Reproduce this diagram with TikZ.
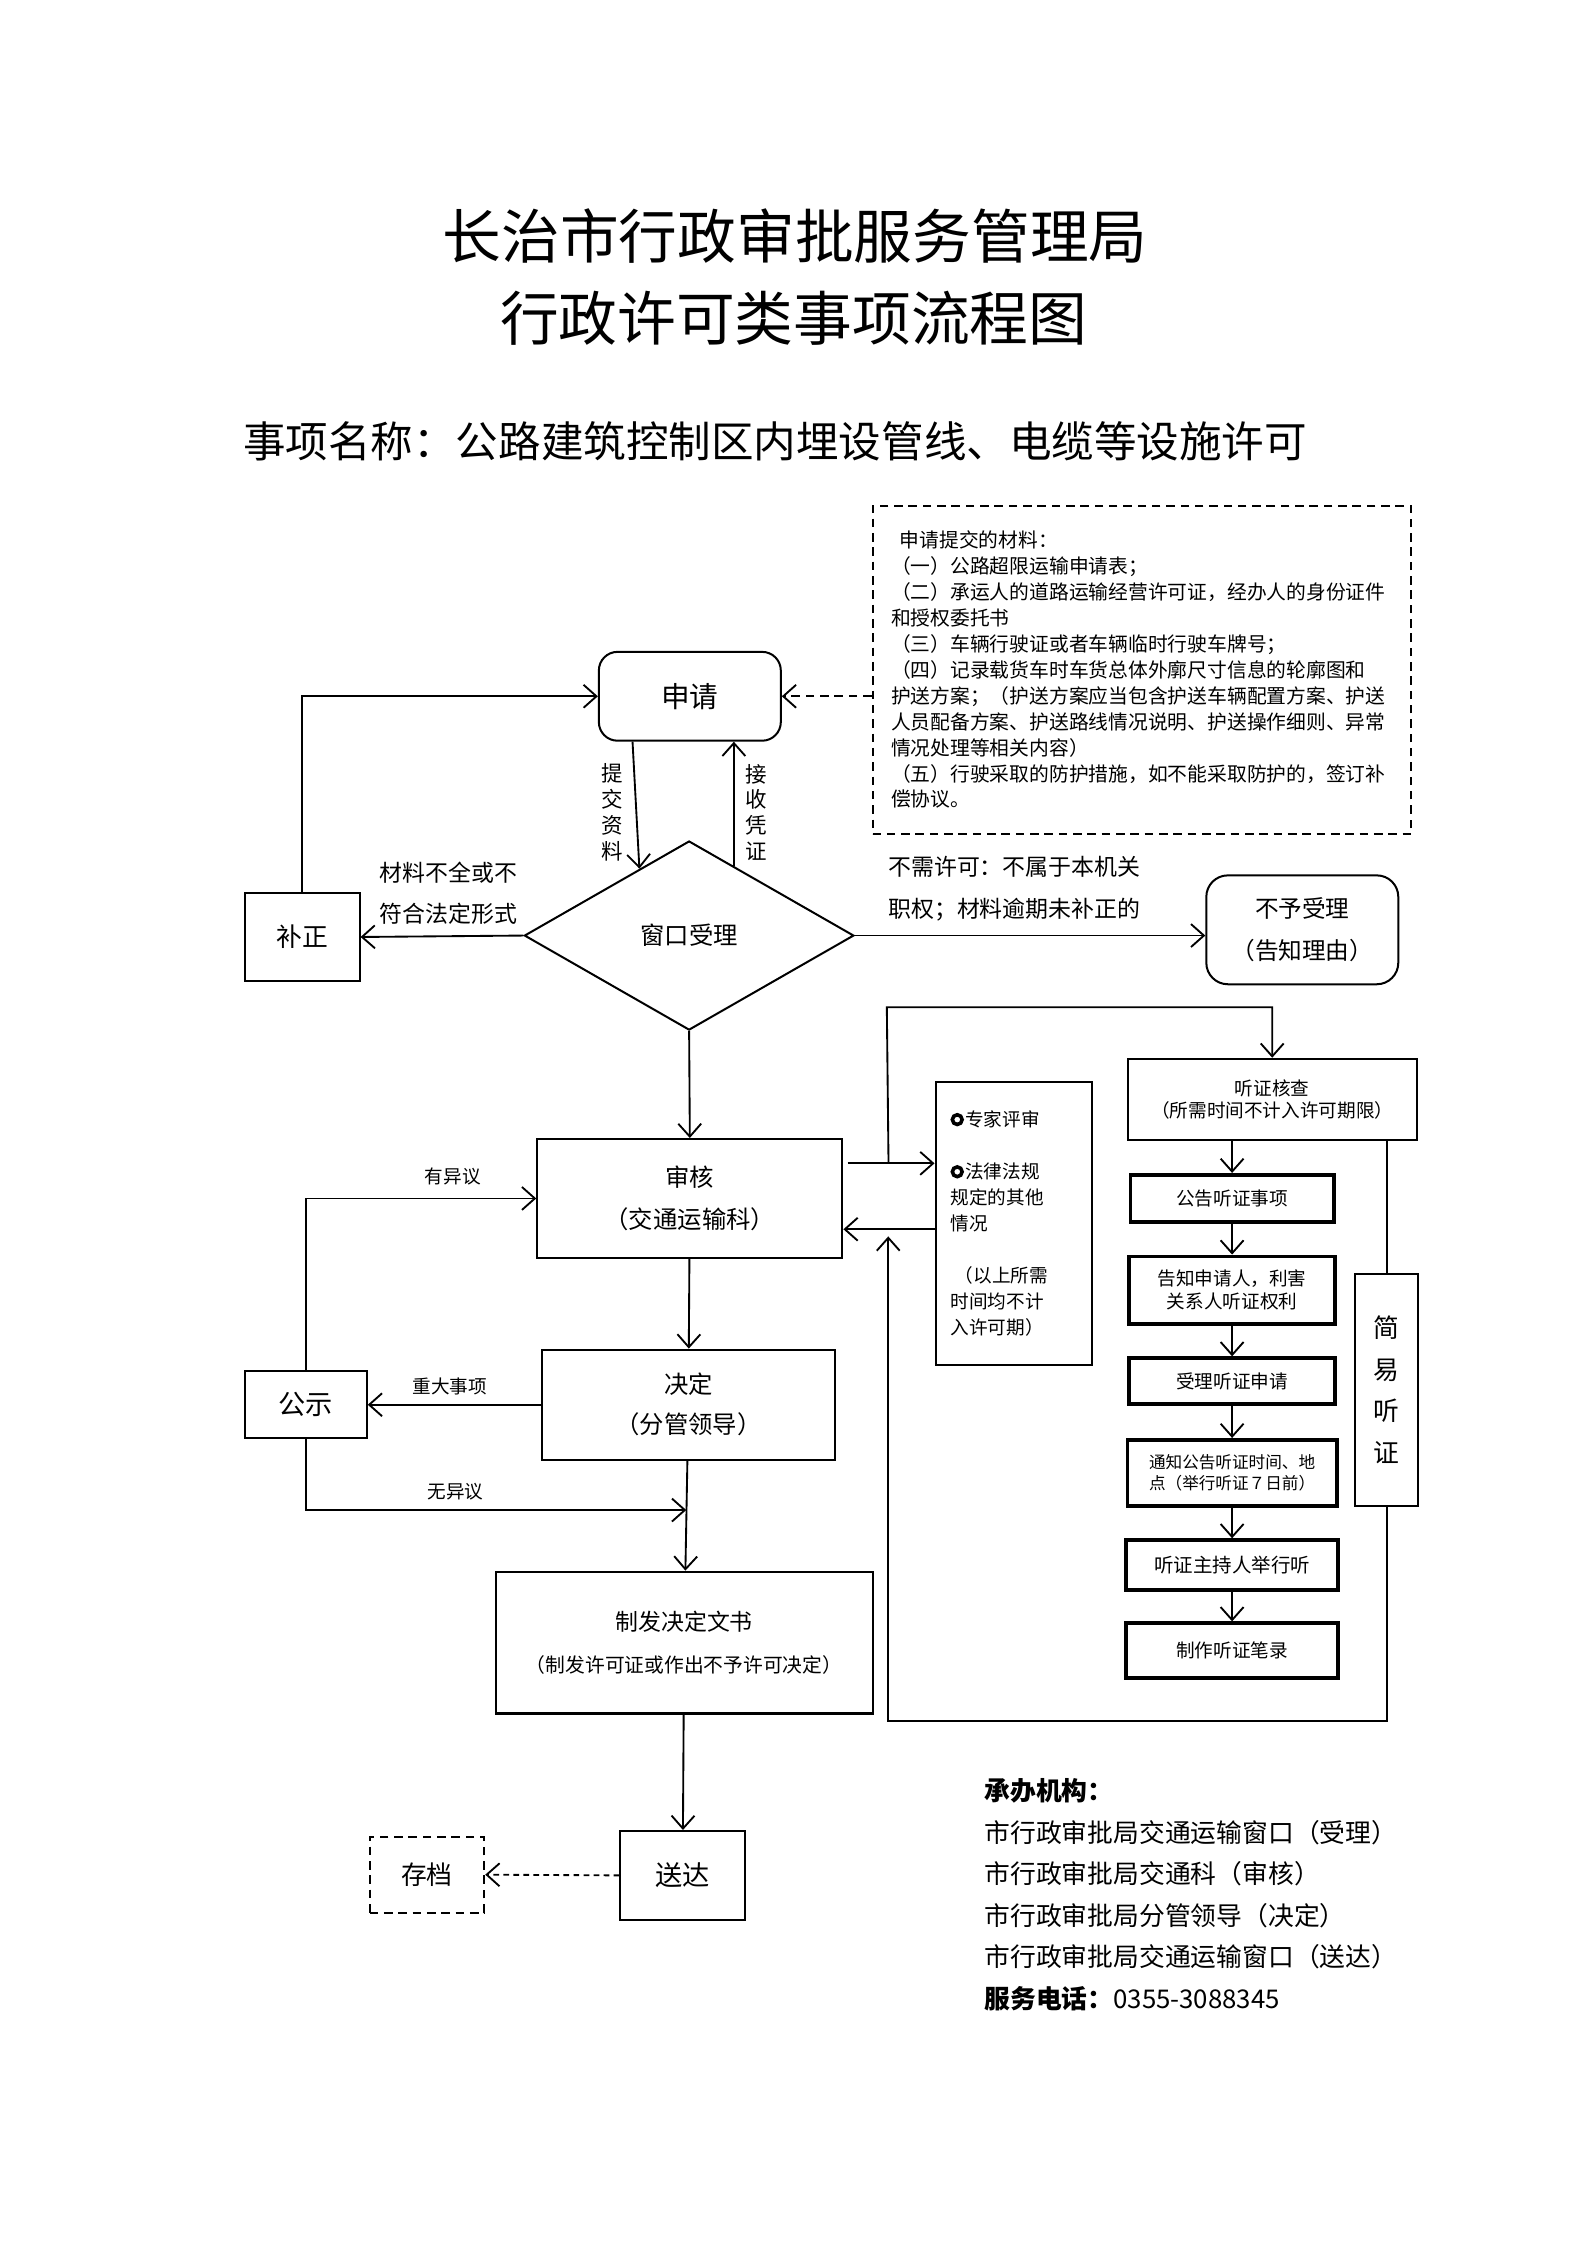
\documentclass[tikz,border=0pt]{standalone}
\usepackage{fontspec}
\setmainfont{Noto Sans CJK SC}
\usetikzlibrary{arrows.meta,positioning,shapes.geometric,calc}

\newcommand{\fsz}[2]{\fontsize{#1pt}{#2pt}\selectfont}
\newcommand{\ringdot}{\tikz[baseline=-4.6pt]\draw[line width=2.5pt] (0,0) circle[radius=3.4pt];\hspace{1pt}}

\begin{document}
\begin{tikzpicture}[x=1pt, y=-1pt,
    box/.style={rectangle, draw, line width=1.4pt, align=center, inner sep=0pt},
    roundbox/.style={box, rounded corners=13pt},
    dashbox/.style={box, dash pattern=on 6pt off 4pt},
    hearbox/.style={box, line width=2.6pt, font=\fsz{13}{16}},
    lbl/.style={inner sep=0pt, align=center},
    arrow/.style={-{Straight Barb[length=9pt,width=16pt]}, line width=1.3pt}
]
\useasboundingbox (0,0) rectangle (1108,1567);

% Titles
\node[lbl, font=\fsz{41}{48}] (title) at (555,165) {长治市行政审批服务管理局};
\node[lbl, font=\fsz{41}{48}] (title2) at (554,222) {行政许可类事项流程图};
\node[lbl, font=\fsz{29.7}{36}] (item) at (541,308) {事项名称：公路建筑控制区内埋设管线、电缆等设施许可};

% Materials
\node[dashbox, minimum width=376pt, minimum height=229pt, text width=350pt, align=left, font=\fsz{13.8}{18.1}] (docs) at (797,467.5) {%
\hspace*{6pt}申请提交的材料：\\
（一）公路超限运输申请表；\\
（二）承运人的道路运输经营许可证，经办人的身份证件\\
和授权委托书\\
（三）车辆行驶证或者车辆临时行驶车牌号；\\
（四）记录载货车时车货总体外廓尺寸信息的轮廓图和\\
护送方案；（护送方案应当包含护送车辆配置方案、护送\\
人员配备方案、护送路线情况说明、护送操作细则、异常\\
情况处理等相关内容）\\
（五）行驶采取的防护措施，如不能采取防护的，签订补\\
偿协议。};

% Main path
\node[roundbox, minimum width=127pt, minimum height=62pt, font=\fsz{20}{24}] (apply) at (481.5,486) {申请};
\node[diamond, draw, line width=1.4pt, minimum width=230pt, minimum height=132pt, inner sep=0pt, font=\fsz{17}{20}] (accept) at (481,653) {窗口受理};
\node[box, minimum width=80pt, minimum height=62pt, font=\fsz{18}{22}] (fix) at (211,654) {补正};
\node[roundbox, minimum width=134pt, minimum height=76pt, rounded corners=15pt, font=\fsz{16.5}{29}] (reject) at (909,649) {不予受理\\（告知理由）};
\node[box, minimum width=213pt, minimum height=83pt, font=\fsz{17}{29}] (review) at (481.5,836.5) {审核\\（交通运输科）};
\node[box, minimum width=205pt, minimum height=77pt, font=\fsz{17}{28}] (decide) at (480.5,980.5) {决定\\（分管领导）};
\node[box, minimum width=85pt, minimum height=47pt, font=\fsz{19}{22}] (publicize) at (213.5,980.5) {公示};
\node[box, minimum width=263pt, minimum height=99pt, font=\fsz{16}{29}] (issue) at (477.5,1146.5) {制发决定文书\\\fsz{13.8}{29}（制发许可证或作出不予许可决定）};
\node[box, minimum width=87pt, minimum height=62pt, font=\fsz{19}{22}] (deliver) at (476.5,1309) {送达};
\node[dashbox, minimum width=80pt, minimum height=53pt, font=\fsz{18}{22}] (archive) at (298,1308.5) {存档};

% Expert review
\node[box, minimum width=109pt, minimum height=198pt, text width=88pt, align=left, font=\fsz{13}{18.2}] (expert) at (707.5,854) {%
\ringdot 专家评审\\
\mbox{}\\
\ringdot 法律法规\\
规定的其他\\
情况\\
\mbox{}\\
\hspace*{3pt}（以上所需\\
时间均不计\\
入许可期）};

% Hearing
\node[box, minimum width=202pt, minimum height=57pt, font=\fsz{13}{15}] (hcheck) at (888,767.5) {听证核查\\（所需时间不计入许可期限）};
\node[hearbox, minimum width=142pt, minimum height=33pt] (hnotice) at (860,836.5) {公告听证事项};
\node[hearbox, minimum width=144pt, minimum height=47pt] (hinform) at (860,900.5) {告知申请人，利害\\关系人听证权利};
\node[hearbox, minimum width=144pt, minimum height=32pt] (hreceive) at (860,964) {受理听证申请};
\node[hearbox, minimum width=146pt, minimum height=46pt, font=\fsz{11.6}{15}] (htime) at (860,1028) {通知公告听证时间、地\\点（举行听证７日前）};
\node[hearbox, minimum width=148pt, minimum height=35pt, font=\fsz{13.6}{16}] (hhold) at (860,1092.5) {听证主持人举行听};
\node[hearbox, minimum width=148pt, minimum height=38pt] (hrecord) at (860,1152) {制作听证笔录};
\node[box, minimum width=44pt, minimum height=162pt, font=\fsz{18}{29}] (simple) at (968,970) {简\\易\\听\\证};

% Labels
\node[lbl, font=\fsz{15}{18}] (lblsubmit) at (427,567) {提\\交\\资\\料};
\node[lbl, font=\fsz{15}{18}] (lblreceipt) at (528,567) {接\\收\\凭\\证};
\node[lbl, font=\fsz{16}{29}] (lblfix) at (313,623.5) {材料不全或不\\符合法定形式};
\node[lbl, font=\fsz{16}{29}, align=left] (lblreject) at (708,620.5) {不需许可：不属于本机关\\职权；材料逾期未补正的};
\node[lbl, font=\fsz{13}{15}] (lblyes) at (316,821) {有异议};
\node[lbl, font=\fsz{13}{15}] (lblmajor) at (314,968) {重大事项};
\node[lbl, font=\fsz{13}{15}] (lblno) at (318,1041) {无异议};

% Footer
\node[lbl, anchor=west, align=left, font=\fsz{18}{29}] (office) at (687,1322.5) {%
\textbf{承办机构：}\\
市行政审批局交通运输窗口（受理）\\
市行政审批局交通科（审核）\\
市行政审批局分管领导（决定）\\
市行政审批局交通运输窗口（送达）\\
\textbf{服务电话：}0355-3088345};

% Connectors
\coordinate (sub1) at ($(accept.north)!0.3!(accept.west)$);
\coordinate (rec1) at ($(accept.north)!0.27!(accept.east)$);
\draw[arrow] ([xshift=-40pt]apply.south) -- (sub1);
\draw[arrow] (rec1) -- (rec1 |- apply.south);
\draw[arrow] (fix.north) |- (apply.west);
\draw[arrow, dash pattern=on 6pt off 4pt] (docs.west |- apply) -- (apply.east);
\draw[arrow] (accept.west) -- (fix.east);
\draw[arrow] (accept.east) -- (accept.east -| reject.west);
\draw[arrow] (accept.south) -- (review.north);
\draw[arrow] (review) -- (decide);
\draw[arrow] (decide.west) -- (publicize.east);
\draw[arrow] (publicize.north) |- (review.west);
\coordinate (nodissent) at (479,1054);
\draw[arrow] (publicize.south) |- (nodissent);
\draw[arrow] (decide) -- (issue);
\draw[arrow] (issue) -- (deliver);
\draw[arrow, dash pattern=on 4pt off 3pt] (deliver.west) -- (archive.east);

% Expert and hearing loop
\coordinate (r1) at ([xshift=3pt, yshift=24.5pt]review.east);
\coordinate (r2) at ([yshift=-21.5pt]review.east);
\coordinate (jn) at ($(r1)!0.47!(r1 -| expert.west)$);
\coordinate (hbend) at (619,703);
\coordinate (hloop) at (620,1201);
\coordinate (hback) at (620,863);
\draw[arrow] (r1) -- (r1 -| expert.west);
\draw[arrow] (r2 -| expert.west) -- (r2);
\draw[arrow] (jn) -- (hbend) -| (hcheck.north);
\draw[arrow] (hcheck.south -| hnotice) -- (hnotice);
\foreach \a/\b in {hnotice/hinform, hinform/hreceive, hreceive/htime, htime/hhold, hhold/hrecord}
  \draw[arrow] (\a) -- (\b);
\draw[line width=1.4pt] (hcheck.south -| simple) -- (simple.north);
\draw[arrow] (simple.south) |- (hloop) -- (hback);

\end{tikzpicture}
\end{document}
